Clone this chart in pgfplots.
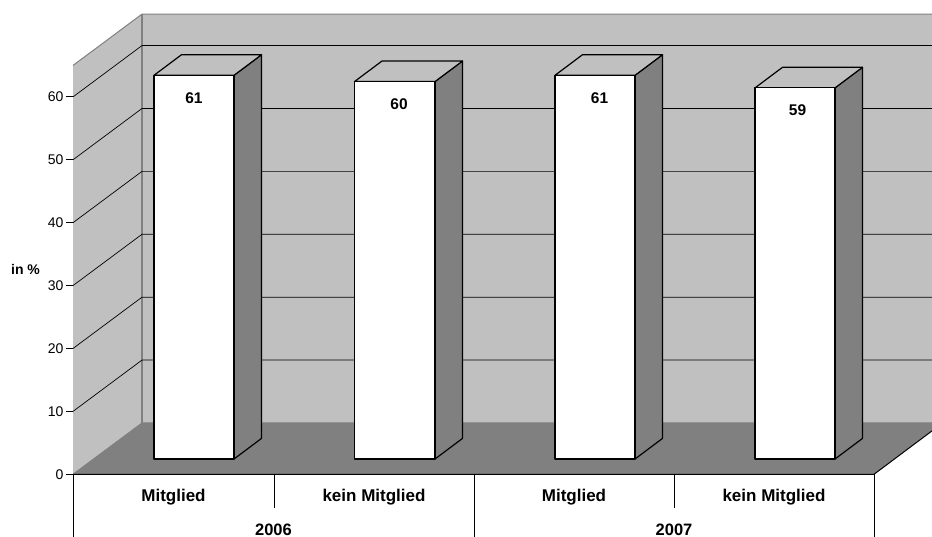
\documentclass[border=0pt]{standalone}
\usepackage{fontspec}
\setmainfont{Liberation Sans}
\usepackage{pgfplots}
\pgfplotsset{compat=1.18}
\definecolor{wallgray}{HTML}{C0C0C0}
\definecolor{floorgray}{HTML}{808080}
\begin{document}
\begin{tikzpicture}[x=1pt,y=1pt]
\useasboundingbox (0,0) rectangle (932,537);
\begin{axis}[
  at={(73pt,62.7pt)}, anchor=south west,
  scale only axis, width=801pt, height=408.85pt,
  xmin=73, xmax=874, ymin=0, ymax=65,
  clip=false,
  /pgf/number format/assume math mode=true,
  axis x line=none, axis y line*=left,
  axis line style={black, line width=0.8pt, -},
  ytick={0,10,20,30,40,50,60},
  tick align=outside, major tick length=7pt,
  tick style={black, line width=0.8pt},
  yticklabel style={font=\fontsize{14}{16}\selectfont, xshift=1pt},
  ylabel={\bfseries in \%},
  ylabel style={rotate=-90, font=\fontsize{14}{16}\selectfont, at={(axis description cs:-0.0593,0.5)}, anchor=center},
  every axis plot/.append style={line join=miter},
]
% side wall and rear wall
\addplot[fill=wallgray, draw=none] coordinates {(73,0)(73,65)(142,73.16)(142,8.16)} -- cycle;
\addplot[fill=wallgray, draw=none] coordinates {(142,8.16)(142,73.16)(932,73.16)(932,8.16)} -- cycle;
% floor
\addplot[fill=floorgray, draw=none] coordinates {(73,0)(874,0)(932,6.9)(932,8.16)(142,8.16)} -- cycle;
% wall edges
\addplot[floorgray, line width=1pt] coordinates {(73,65)(142,73.16)(932,73.16)};
\addplot[floorgray, line width=1.5pt] coordinates {(142,73.16)(142,8.16)};
\addplot[floorgray, line width=1pt] coordinates {(73,0)(142,8.16)(932,8.16)};
% grid lines over side wall and rear wall
\addplot[black, line width=0.7pt] coordinates {(73,10)(142,18.16)(932,18.16)};
\addplot[black, line width=0.7pt] coordinates {(73,20)(142,28.16)(932,28.16)};
\addplot[black, line width=0.7pt] coordinates {(73,30)(142,38.16)(932,38.16)};
\addplot[black, line width=0.7pt] coordinates {(73,40)(142,48.16)(932,48.16)};
\addplot[black, line width=0.7pt] coordinates {(73,50)(142,58.16)(932,58.16)};
\addplot[black, line width=0.7pt] coordinates {(73,60)(142,68.16)(932,68.16)};
% columns: side face, top face and front face, moved back from the front plane
\pgfplotsset{
  barline/.style={draw=black, line width=1.2pt, line join=round, yshift=15.3pt},
}
% 2006 Mitglied
\addplot[barline, fill=floorgray] coordinates {(234,0)(261.5,3.27)(261.5,64.27)(234,61)} -- cycle;
\addplot[barline, fill=wallgray] coordinates {(154,61)(181.5,64.27)(261.5,64.27)(234,61)} -- cycle;
\addplot[barline, fill=white] coordinates {(154,0)(154,61)(234,61)(234,0)} -- cycle;
% 2006 kein Mitglied
\addplot[barline, fill=floorgray] coordinates {(435,0)(462.5,3.27)(462.5,63.27)(435,60)} -- cycle;
\addplot[barline, fill=wallgray] coordinates {(354.5,60)(382,63.27)(462.5,63.27)(435,60)} -- cycle;
\addplot[barline, fill=white] coordinates {(354.5,0)(354.5,60)(435,60)(435,0)} -- cycle;
% 2007 Mitglied
\addplot[barline, fill=floorgray] coordinates {(635,0)(662.5,3.27)(662.5,64.27)(635,61)} -- cycle;
\addplot[barline, fill=wallgray] coordinates {(555,61)(582.5,64.27)(662.5,64.27)(635,61)} -- cycle;
\addplot[barline, fill=white] coordinates {(555,0)(555,61)(635,61)(635,0)} -- cycle;
% 2007 kein Mitglied
\addplot[barline, fill=floorgray] coordinates {(835,0)(862.5,3.27)(862.5,62.27)(835,59)} -- cycle;
\addplot[barline, fill=wallgray] coordinates {(755,59)(782.5,62.27)(862.5,62.27)(835,59)} -- cycle;
\addplot[barline, fill=white] coordinates {(755,0)(755,59)(835,59)(835,0)} -- cycle;
% column values
\addplot[draw=none, yshift=15.3pt, nodes near coords,
  nodes near coords style={anchor=center, yshift=-22.5pt, font=\bfseries\fontsize{15.5}{17}\selectfont, text=black}]
  coordinates {(194,61)(399,60)(599.5,61)(797.5,59)};
% front edge of the floor and its right-hand edge
\addplot[black, line width=1pt] coordinates {(73,0)(874,0)(932,6.9)};
% category table below the floor
\addplot[black, line width=0.7pt] coordinates {(73,0)(73,-10.06)};
\addplot[black, line width=0.7pt] coordinates {(274,0)(274,-5.3)};
\addplot[black, line width=0.7pt] coordinates {(474,0)(474,-10.06)};
\addplot[black, line width=0.7pt] coordinates {(674,0)(674,-5.3)};
\addplot[black, line width=0.7pt] coordinates {(874,0)(874,-10.06)};
\node[font=\bfseries\fontsize{17}{19}\selectfont] at (axis cs:173.5,-3.6) {Mitglied};
\node[font=\bfseries\fontsize{17}{19}\selectfont] at (axis cs:374,-3.6) {kein Mitglied};
\node[font=\bfseries\fontsize{17}{19}\selectfont] at (axis cs:574,-3.6) {Mitglied};
\node[font=\bfseries\fontsize{17}{19}\selectfont] at (axis cs:774,-3.6) {kein Mitglied};
\node[inner sep=0pt, font=\bfseries\fontsize{16.5}{18}\selectfont] at (axis cs:273.5,-8.75) {2006};
\node[inner sep=0pt, font=\bfseries\fontsize{16.5}{18}\selectfont] at (axis cs:674,-8.75) {2007};
\end{axis}
\end{tikzpicture}
\end{document}
